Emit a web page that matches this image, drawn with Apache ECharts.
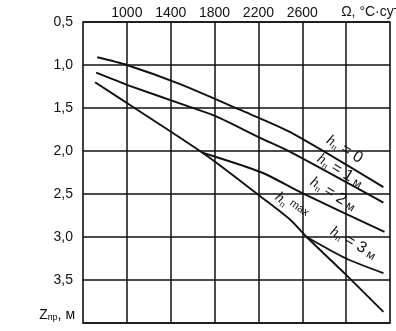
<!DOCTYPE html>
<html>
<head>
<meta charset="utf-8">
<script src="https://cdn.jsdelivr.net/npm/echarts@6/dist/echarts.min.js"></script>
<style>
  html, body { margin: 0; padding: 0; background: #fff; }
  #chart { width: 396px; height: 331px; }
</style>
</head>
<body>
<div id="chart"></div>
<script>
// Freezing index Ω (°C·сут) against design depth Z_пр (м) for several snow depths h_п
const omegaH0 = [730, 1000, 1480, 2030, 2490, 3340];
const depthH0 = [0.91, 1.00, 1.22, 1.52, 1.78, 2.42];

const omegaH1 = [720, 1000, 1580, 1820, 2220, 2490, 3340];
const depthH1 = [1.09, 1.23, 1.49, 1.60, 1.85, 2.01, 2.60];

const omegaHmax = [710, 1070, 1420, 1690, 1820, 2210, 2490, 2640, 3000, 3340];
const depthHmax = [1.20, 1.50, 1.79, 2.02, 2.14, 2.52, 2.80, 3.00, 3.44, 3.87];

const omegaH2 = [1690, 2230, 2600, 3350];
const depthH2 = [2.02, 2.25, 2.49, 2.94];

const omegaH3 = [2640, 3000, 3340];
const depthH3 = [3.00, 3.25, 3.42];

// axis ticks
const omegaTickLabels = [1000, 1400, 1800, 2200, 2600];
const omegaGridLines = [1000, 1400, 1800, 2200, 2600, 3000];
const depthTicks = [0.5, 1.0, 1.5, 2.0, 2.5, 3.0, 3.5];

const ink = '#111';
const sans = '"Liberation Sans", Arial, Helvetica, sans-serif';
const serif = '"Liberation Serif", "Times New Roman", serif';

function pairs(xs, ys) { return xs.map((x, i) => [x, ys[i]]); }

const chart = echarts.init(document.getElementById('chart'), null, { renderer: 'canvas' });

const curveStyle = { color: ink, width: 1.9 };
function curve(name, xs, ys) {
  return {
    name, type: 'line', data: pairs(xs, ys), smooth: 0.25,
    symbol: 'none', lineStyle: curveStyle, itemStyle: { color: ink },
    silent: true, animation: false, z: 3
  };
}

const series = [
  curve('h0', omegaH0, depthH0),
  curve('h1', omegaH1, depthH1),
  curve('hmax', omegaHmax, depthHmax),
  curve('h2', omegaH2, depthH2),
  curve('h3', omegaH3, depthH3)
];
// vertical grid lines every 400 °C·сут
series[0].markLine = {
  silent: true, symbol: 'none', animation: false,
  label: { show: false },
  lineStyle: { color: ink, width: 1.5, type: 'solid' },
  data: omegaGridLines.map(v => ({ xAxis: v }))
};

chart.setOption({
  animation: false,
  backgroundColor: '#fff',
  grid: {
    left: 83, top: 22, right: 6, bottom: 8,
    show: true, borderColor: ink, borderWidth: 1.6, backgroundColor: 'transparent'
  },
  xAxis: {
    type: 'value', position: 'top', min: 600, max: 3400, interval: 200,
    axisLine: { show: false }, axisTick: { show: false }, splitLine: { show: false },
    axisLabel: {
      margin: 2, color: ink, fontSize: 14, fontFamily: sans,
      formatter: v => omegaTickLabels.includes(v) ? String(v) : ''
    }
  },
  yAxis: {
    type: 'value', inverse: true, min: 0.5, max: 4, interval: 0.5,
    axisLine: { show: false }, axisTick: { show: false },
    splitLine: { show: true, lineStyle: { color: ink, width: 1.5 } },
    axisLabel: {
      margin: 10, color: ink, fontSize: 14, fontFamily: sans,
      formatter: v => depthTicks.some(t => Math.abs(t - v) < 1e-6) ? v.toFixed(1).replace('.', ',') : ''
    }
  },
  series
});

// curve captions placed in data coordinates and turned along the curves
const captions = [
  { at: [2985, 1.98], text: '{h|h}{s|п}{t| = 0}', angle: -0.55 },
  { at: [2945, 2.23], text: '{h|h}{s|п}{t| = 1}{m| м}', angle: -0.55 },
  { at: [2880, 2.50], text: '{h|h}{s|п}{t| = 2}{m| м}', angle: -0.55 },
  { at: [2500, 2.64], text: '{h|h}{s|п}{x| max}', angle: -0.62 },
  { at: [3065, 3.07], text: '{h|h}{s|п}{t| = 3}{m| м}', angle: -0.52 }
];
const rich = {
  h: { fontFamily: serif, fontStyle: 'italic', fontSize: 15, fill: ink, color: ink },
  s: { fontFamily: serif, fontSize: 9, fill: ink, color: ink, verticalAlign: 'bottom', padding: [8, 0, 0, 0] },
  t: { fontFamily: sans, fontSize: 16, fill: ink, color: ink },
  m: { fontFamily: sans, fontSize: 12, fill: ink, color: ink, padding: [4, 0, 0, 0] },
  x: { fontFamily: sans, fontSize: 11, fill: ink, color: ink, padding: [0, 0, 6, 0] }
};

const graphics = captions.map(c => {
  const p = chart.convertToPixel({ gridIndex: 0 }, c.at);
  return {
    type: 'text', x: p[0], y: p[1], rotation: c.angle, silent: true, z: 10,
    style: { text: c.text, rich, align: 'center', verticalAlign: 'middle', fill: ink }
  };
});

// unit caption of the Ω axis, in place of the 3000 tick label
const pOmega = chart.convertToPixel({ gridIndex: 0 }, [3000, 0.5]);
graphics.push({
  type: 'text', x: pOmega[0] - 5, y: pOmega[1] - 10, silent: true,
  style: { text: 'Ω, °C·сут', font: '14px ' + sans, fill: ink, align: 'left', verticalAlign: 'middle' }
});

// caption of the depth axis at its lower end
const pDepth = chart.convertToPixel({ gridIndex: 0 }, [600, 4.0]);
graphics.push({
  type: 'text', x: pDepth[0] - 8, y: pDepth[1] - 8, silent: true,
  style: {
    text: '{z|Z}{s|пр}{z|, м}', align: 'right', verticalAlign: 'middle',
    rich: {
      z: { fontFamily: sans, fontSize: 14, fill: ink, color: ink },
      s: { fontFamily: sans, fontSize: 9, fill: ink, color: ink, padding: [6, 0, 0, 0] }
    }
  }
});

chart.setOption({ graphic: graphics });
</script>
</body>
</html>
